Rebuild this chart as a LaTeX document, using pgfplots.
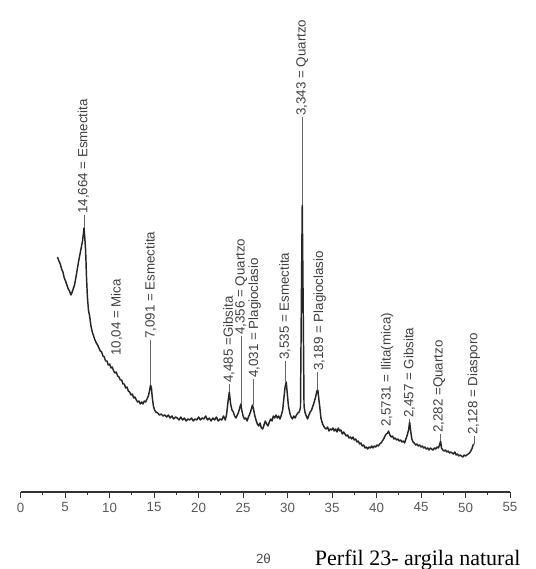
\documentclass[border=0pt]{standalone}
\usepackage{fontspec}
\setmainfont{Liberation Sans}
\newfontfamily\seriffont{Liberation Serif}
\usepackage{pgfplots}
\pgfplotsset{compat=1.18}
\pgfplotstableread{
x y
4.14 235
4.30 231
4.45 228
4.60 223
4.75 220
4.90 214
5.05 211
5.20 207
5.35 203
5.50 201
5.65 197
5.75 199
5.90 203
6.05 207
6.20 214
6.35 222
6.50 230
6.65 237
6.80 244
6.95 251
7.05 258
7.12 264
7.20 255
7.30 242
7.40 215
7.50 195
7.62 182
7.75 176
7.90 166
8.05 160
8.20 156
8.35 152
8.50 149
8.65 147
8.80 144
8.95 141
9.10 140
9.25 136
9.40 135
9.55 131
9.70 131
9.85 127
10.00 128
10.15 124
10.30 125
10.45 121
10.60 119
10.75 120
10.90 116
11.05 115
11.20 112
11.35 112
11.50 108
11.65 108
11.80 104
11.95 105
12.10 101
12.25 100
12.40 97
12.55 98
12.70 94
12.85 95
13.00 92
13.15 90
13.30 91
13.45 88
13.60 90
13.75 88
13.90 91
14.05 90
14.20 93
14.35 96
14.48 101
14.60 107
14.70 104
14.80 94
14.92 86
15.05 82
15.20 80
15.40 79
15.60 77
15.80 78
16.00 76
16.20 77
16.40 75
16.60 77
16.80 74
17.00 76
17.20 73
17.40 75
17.60 74
17.80 72
18.00 75
18.20 72
18.40 74
18.60 71
18.80 73
19.00 72
19.20 74
19.40 71
19.60 73
19.80 72
20.00 75
20.20 72
20.40 74
20.60 73
20.80 76
21.00 72
21.20 74
21.40 71
21.60 74
21.80 72
22.00 75
22.20 71
22.40 73
22.60 72
22.80 76
23.00 72
23.15 78
23.30 90
23.45 100
23.60 88
23.75 82
23.90 80
24.05 76
24.20 74
24.35 77
24.50 80
24.65 85
24.75 88
24.85 82
25.00 76
25.15 73
25.30 74
25.45 71
25.60 75
25.75 78
25.90 82
26.05 87
26.15 84
26.30 77
26.45 72
26.60 68
26.75 66
26.90 69
27.05 64
27.20 63
27.35 67
27.50 71
27.65 68
27.80 66
27.95 70
28.10 73
28.25 71
28.40 76
28.55 74
28.70 77
28.85 74
29.00 76
29.15 73
29.30 77
29.45 82
29.60 95
29.72 105
29.85 110
29.97 98
30.10 86
30.25 79
30.40 75
30.55 73
30.70 76
30.85 74
31.00 77
31.15 79
31.30 80
31.45 84
31.55 190
31.65 287
31.75 190
31.85 86
31.95 80
32.10 76
32.25 73
32.40 77
32.55 80
32.70 82
32.85 86
33.00 90
33.15 95
33.30 101
33.40 102
33.50 94
33.62 85
33.75 74
33.90 69
34.05 66
34.20 64
34.35 63
34.50 65
34.65 61
34.80 63
34.95 62
35.10 64
35.25 61
35.40 63
35.55 60
35.70 64
35.85 61
36.00 62
36.15 58
36.30 60
36.45 58
36.60 56
36.75 57
36.90 54
37.05 55
37.20 53
37.35 55
37.50 52
37.65 53
37.80 50
37.95 51
38.10 48
38.25 49
38.40 46
38.55 47
38.70 44
38.85 45
39.00 43
39.15 45
39.30 44
39.45 46
39.60 44
39.75 46
39.90 45
40.05 47
40.20 46
40.35 48
40.50 49
40.65 51
40.80 53
40.95 56
41.10 58
41.25 59
41.35 61
41.50 57
41.65 55
41.80 56
41.95 53
42.10 54
42.25 52
42.40 53
42.55 51
42.70 52
42.85 50
43.00 51
43.15 49
43.30 53
43.45 57
43.60 62
43.72 70
43.85 60
43.97 53
44.10 50
44.25 49
44.40 47
44.55 48
44.70 46
44.85 47
45.00 45
45.15 46
45.30 44
45.45 45
45.60 43
45.75 44
45.90 42
46.05 44
46.20 43
46.35 42
46.50 44
46.65 43
46.80 45
46.95 44
47.08 47
47.20 51
47.30 44
47.45 42
47.60 41
47.75 42
47.90 40
48.05 41
48.20 39
48.35 40
48.50 39
48.65 38
48.80 40
48.95 37
49.10 38
49.25 36
49.40 37
49.55 36
49.70 35
49.85 37
50.00 36
50.15 37
50.30 38
50.45 39
50.60 41
50.75 44
50.85 47
50.95 48
}\xrd
\newcommand{\lab}{\fontsize{10}{12}\selectfont}
\begin{document}
\begin{tikzpicture}
\useasboundingbox (0,0) rectangle (402pt,426.75pt);
\begin{axis}[
  at={(15.5pt,57.75pt)}, anchor=south west,
  scale only axis, width=367pt, height=369pt,
  xmin=0, xmax=55, ymin=0, ymax=492,
  axis x line*=bottom, axis y line=none,
  xtick={0,5,...,55}, minor x tick num=1,
  tick align=outside, major tick length=4.5pt, minor tick length=2pt,
  x axis line style={black!80, line width=0.8pt},
  every tick/.style={black!80, line width=0.7pt},
  xticklabel style={font=\fontsize{10}{12}\selectfont, text=black!65},
  /pgf/number format/assume math mode=true,
  clip=false,
]
\addplot[black!85, line width=1.1pt, line join=round] table[x=x,y=y] {\xrd};
\begin{scope}[every node/.style={rotate=90, anchor=west, inner sep=0pt, font=\lab, text=black!75}]
\node at (axis cs:7.05,278) {14,664 = Esmectita};
\node at (axis cs:10.8,136) {10,04 = Mica};
\node at (axis cs:14.6,153) {7,091 = Esmectita};
\node at (axis cs:23.4,109) {4,485 =Gibsita};
\node at (axis cs:24.8,157) {4,356 = Quartzo};
\node at (axis cs:26.3,114) {4,031 = Plagioclasio};
\node at (axis cs:29.7,132) {3,535 = Esmectita};
\node at (axis cs:31.65,376) {3,343 = Quartzo};
\node at (axis cs:33.6,121) {3,189 = Plagioclasio};
\node at (axis cs:41.2,65) {2,5731 = Ilita(mica)};
\node at (axis cs:43.7,74) {2,457 = Gibsita};
\node at (axis cs:47.05,59) {2,282 =Quartzo};
\node at (axis cs:50.95,57) {2,128 = Diasporo};
\end{scope}
\begin{scope}[black!60, line width=0.5pt]
\draw (axis cs:7.1,264) -- (axis cs:7.1,277);
\draw (axis cs:14.62,107) -- (axis cs:14.62,152);
\draw (axis cs:23.45,100) -- (axis cs:23.45,108);
\draw (axis cs:24.75,88) -- (axis cs:24.75,156);
\draw (axis cs:26.1,87) -- (axis cs:26.1,113);
\draw (axis cs:29.8,110) -- (axis cs:29.8,131);
\draw (axis cs:31.65,287) -- (axis cs:31.65,375);
\draw (axis cs:33.4,102) -- (axis cs:33.4,120);
\draw (axis cs:43.72,70) -- (axis cs:43.72,73);
\draw (axis cs:47.2,51) -- (axis cs:47.2,58);
\draw (axis cs:50.95,48) -- (axis cs:50.95,56);
\end{scope}
\end{axis}
\node[text=black!70, font=\fontsize{10}{12}\selectfont] at (197.6pt,7.5pt) {2θ};
\node[anchor=base west, inner sep=0pt, font=\seriffont\fontsize{16.5}{18}\selectfont] at (236pt,2.5pt) {Perfil 23- argila natural};
\end{tikzpicture}
\end{document}
